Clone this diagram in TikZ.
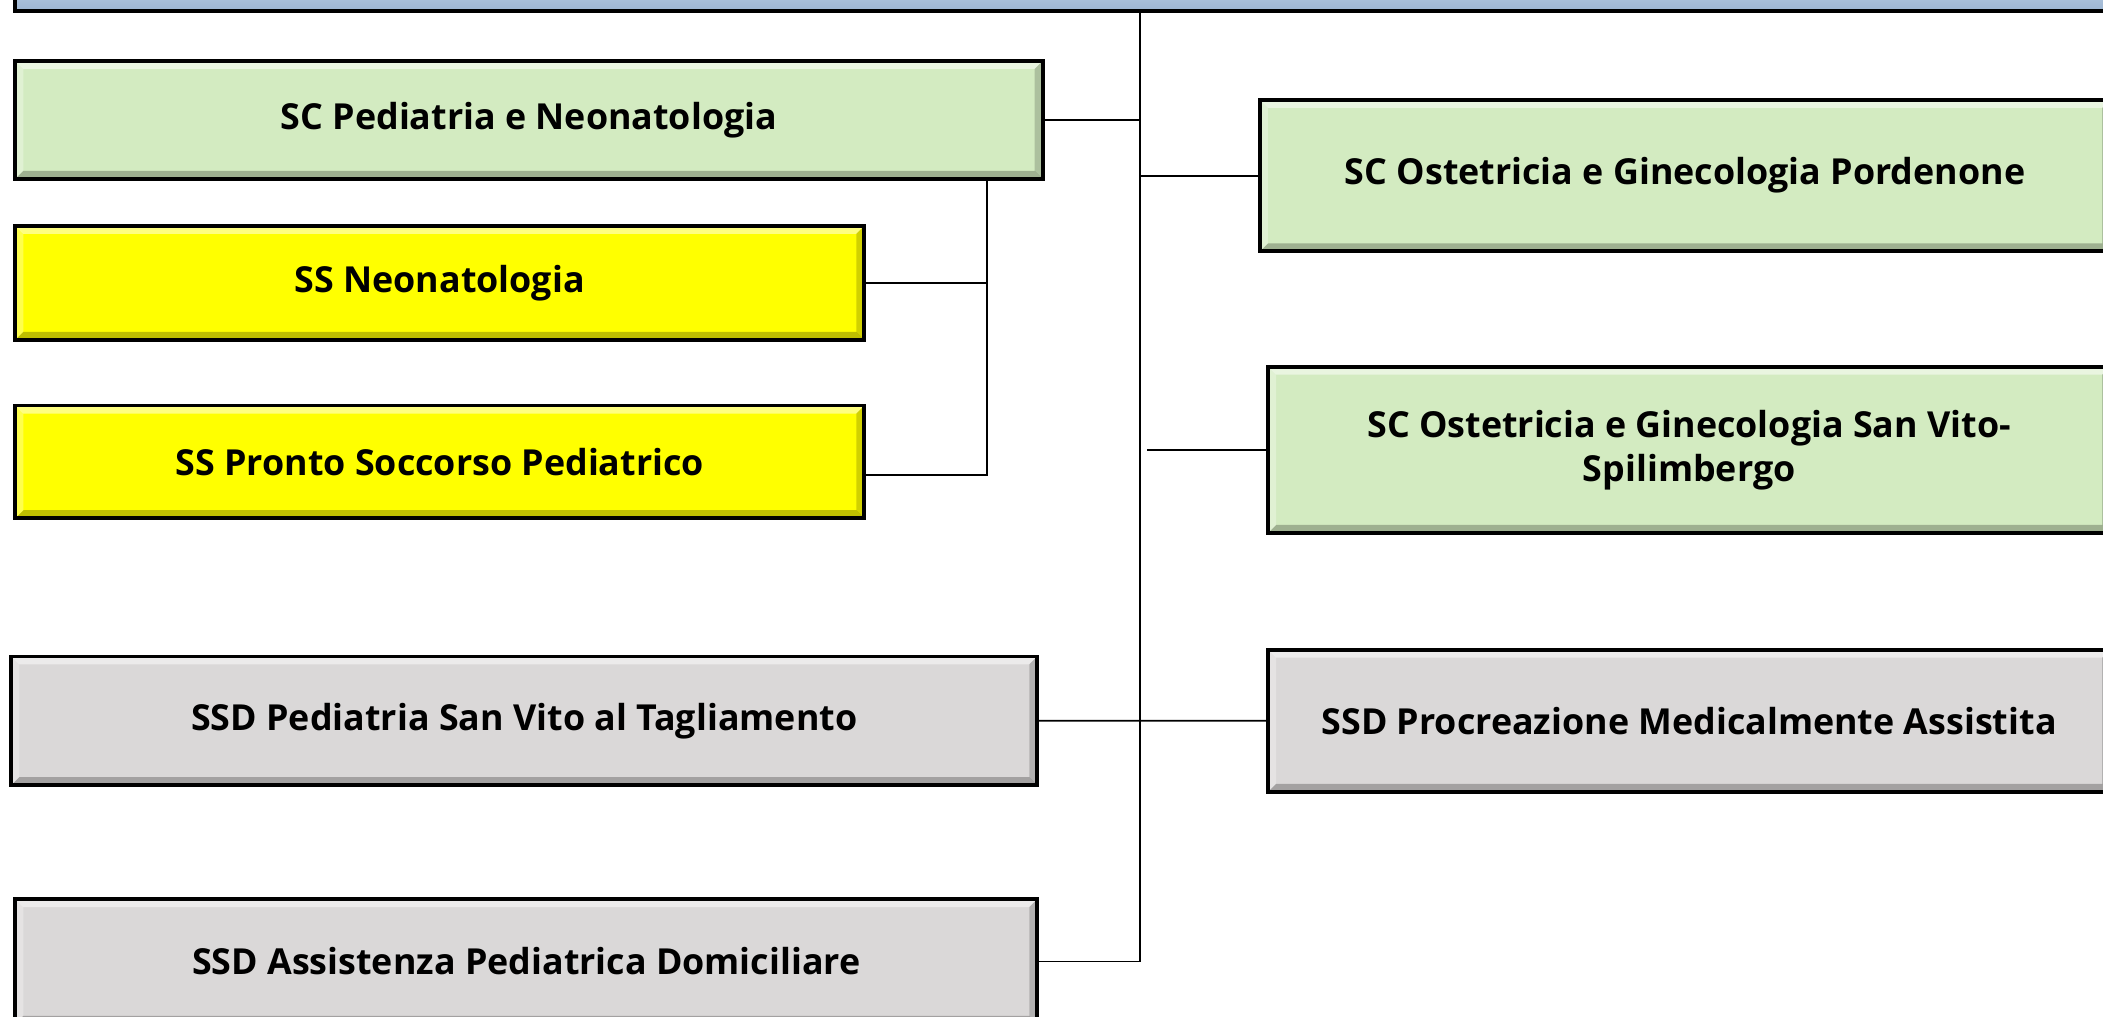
\documentclass[tikz,border=0pt]{standalone}
\usepackage{fontspec}
\setmainfont{Open Sans}
\definecolor{scgreen}{HTML}{D3EBC1}
\definecolor{ssyellow}{HTML}{FFFF00}
\definecolor{ssdgrey}{HTML}{DAD8D8}
\definecolor{barlight}{HTML}{D3E0EF}
\definecolor{bardark}{HTML}{9CB5D2}

\begin{document}
\begin{tikzpicture}[
  x=0.2mm, y=-0.2mm,
  every node/.style={draw=black,line width=1.6pt,anchor=north west,inner sep=2pt,
    align=center,font=\fontsize{15.2}{18.6}\selectfont\bfseries},
  bevel/.style={path picture={
    \fill[white,opacity=0.5] (path picture bounding box.north west) -- (path picture bounding box.north east)
      -- ([shift={(-1.2mm,-1.2mm)}]path picture bounding box.north east) -- ([shift={(1.2mm,-1.2mm)}]path picture bounding box.north west) -- cycle;
    \fill[black,opacity=0.25] (path picture bounding box.south west) -- (path picture bounding box.south east)
      -- ([shift={(-1.2mm,1.2mm)}]path picture bounding box.south east) -- ([shift={(1.2mm,1.2mm)}]path picture bounding box.south west) -- cycle;
    \fill[black,opacity=0.18] (path picture bounding box.north east) -- (path picture bounding box.south east)
      -- ([shift={(-1.2mm,1.2mm)}]path picture bounding box.south east) -- ([shift={(-1.2mm,-1.2mm)}]path picture bounding box.north east) -- cycle;
    \fill[white,opacity=0.3] (path picture bounding box.north west) -- (path picture bounding box.south west)
      -- ([shift={(1.2mm,1.2mm)}]path picture bounding box.south west) -- ([shift={(1.2mm,-1.2mm)}]path picture bounding box.north west) -- cycle;
  }},
  sc/.style={fill=scgreen,bevel},
  ss/.style={fill=ssyellow,bevel},
  ssd/.style={fill=ssdgrey,bevel},
  link/.style={line width=0.8pt},
  ]
  \useasboundingbox (0,0) rectangle (1568,757.6);
  \clip (0,0) rectangle (1568,757.6);

  \node[top color=barlight,bottom color=bardark,minimum width=316mm,minimum height=7.4mm] (direzione) at (10,-30) {};

  \node[sc,minimum width=153.2mm,minimum height=17.6mm] (pedneo) at (10,44) {SC Pediatria e Neonatologia};
  \node[ss,minimum width=126.6mm,minimum height=17mm] (neonat) at (10,167) {SS Neonatologia};
  \node[ss,minimum width=126.6mm,minimum height=16.8mm] (prontosocc) at (10,301) {SS Pronto Soccorso Pediatrico};
  \node[ssd,minimum width=153mm,minimum height=19.2mm] (pedsv) at (7,488) {SSD Pediatria San Vito al Tagliamento};
  \node[ssd,minimum width=152.4mm,minimum height=18.6mm] (apd) at (10,669) {SSD Assistenza Pediatrica Domiciliare};

  \node[sc,minimum width=126.8mm,minimum height=22.6mm] (ostpn) at (938,73) {SC Ostetricia e Ginecologia Pordenone};
  \node[sc,minimum width=125.6mm,minimum height=24.8mm] (ostsv) at (944,272) {SC Ostetricia e Ginecologia San Vito-\\Spilimbergo};
  \node[ssd,minimum width=125.6mm,minimum height=21.2mm] (pma) at (944,483) {SSD Procreazione Medicalmente Assistita};

  \coordinate (trunk) at (850,0);
  \coordinate (branch) at (736,0);
  \coordinate (gap) at (855,0);

  \draw[link] (direzione.south -| trunk) -- (apd.east -| trunk) -- (apd.east);
  \draw[link] (pedneo.east) -- (pedneo.east -| trunk);
  \draw[link] (ostpn.west) -- (ostpn.west -| trunk);
  \draw[link] (ostsv.west) -- (ostsv.west -| gap);
  \draw[link] (pedsv.east) -- (pma.west);
  \draw[link] (neonat.east) -- (neonat.east -| branch);
  \draw[link] (pedneo.south -| branch) -- ([yshift=-2mm]prontosocc.east -| branch) -- ([yshift=-2mm]prontosocc.east);
\end{tikzpicture}
\end{document}
